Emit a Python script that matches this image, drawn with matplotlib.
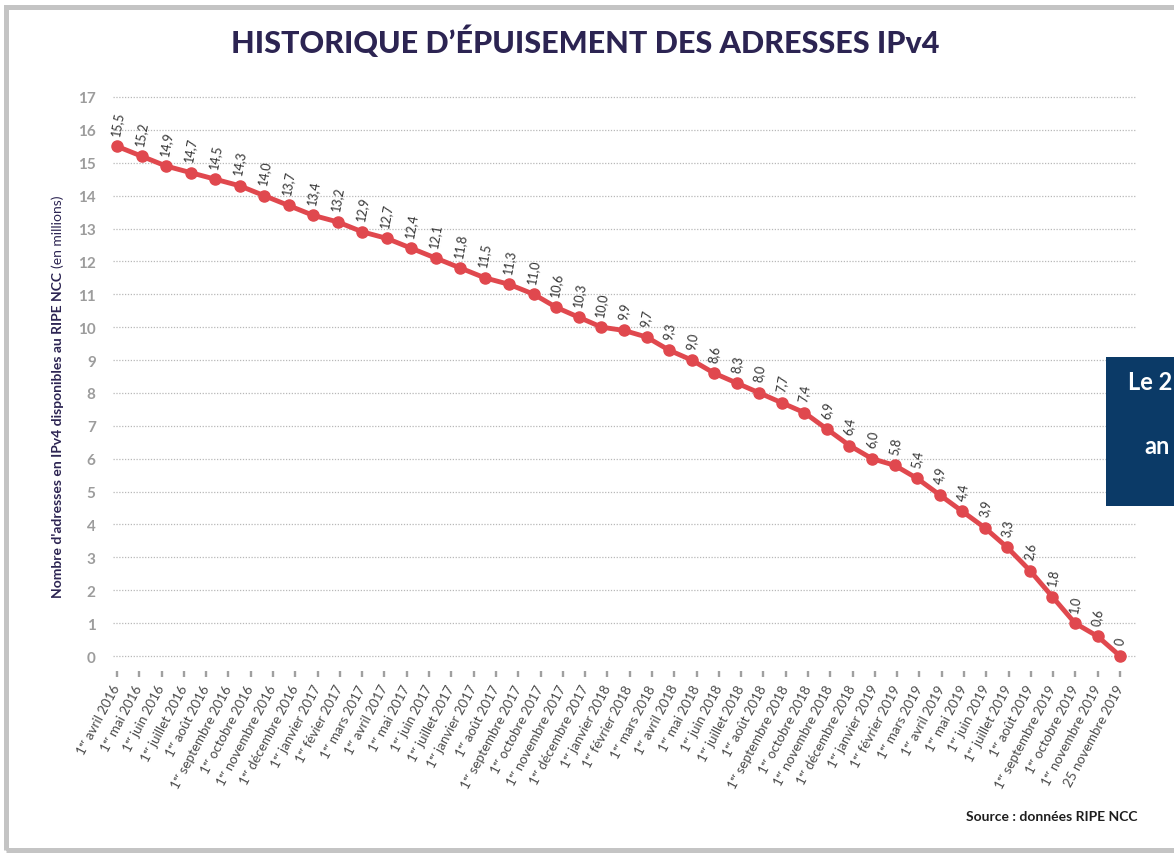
import matplotlib
matplotlib.use("Agg")
import matplotlib.pyplot as plt
import numpy as np
from matplotlib.patches import Rectangle

# ---------------- data ----------------
dates = [
    "1ᵉʳ avril 2016", "1ᵉʳ mai 2016", "1ᵉʳ juin 2016", "1ᵉʳ juillet 2016", "1ᵉʳ août 2016",
    "1ᵉʳ septembre 2016", "1ᵉʳ octobre 2016", "1ᵉʳ novembre 2016", "1ᵉʳ décembre 2016",
    "1ᵉʳ janvier 2017", "1ᵉʳ févier 2017", "1ᵉʳ mars 2017", "1ᵉʳ avril 2017", "1ᵉʳ mai 2017",
    "1ᵉʳ juin 2017", "1ᵉʳ juillet 2017", "1ᵉʳ janvier 2017", "1ᵉʳ août 2017",
    "1ᵉʳ septembre 2017", "1ᵉʳ octobre 2017", "1ᵉʳ novembre 2017", "1ᵉʳ décembre 2017",
    "1ᵉʳ janvier 2018", "1ᵉʳ février 2018", "1ᵉʳ mars 2018", "1ᵉʳ avril 2018", "1ᵉʳ mai 2018",
    "1ᵉʳ juin 2018", "1ᵉʳ juillet 2018", "1ᵉʳ août 2018", "1ᵉʳ septembre 2018",
    "1ᵉʳ octobre 2018", "1ᵉʳ novembre 2018", "1ᵉʳ décembre 2018", "1ᵉʳ janvier 2019",
    "1ᵉʳ février 2019", "1ᵉʳ mars 2019", "1ᵉʳ avril 2019", "1ᵉʳ mai 2019", "1ᵉʳ juin 2019",
    "1ᵉʳ juillet 2019", "1ᵉʳ août 2019", "1ᵉʳ septembre 2019", "1ᵉʳ octobre 2019",
    "1ᵉʳ novembre 2019", "25 novembre 2019",
]
values = [15.5, 15.2, 14.9, 14.7, 14.5, 14.3, 14.0, 13.7, 13.4, 13.2, 12.9, 12.7, 12.4,
          12.1, 11.8, 11.5, 11.3, 11.0, 10.6, 10.3, 10.0, 9.9, 9.7, 9.3, 9.0, 8.6, 8.3,
          8.0, 7.7, 7.4, 6.9, 6.4, 6.0, 5.8, 5.4, 4.9, 4.4, 3.9, 3.3, 2.6, 1.8, 1.0, 0.6, 0.0]
value_labels = ["0" if v == 0 else f"{v:.1f}".replace(".", ",") for v in values]
yticks = list(range(0, 18))

title = "HISTORIQUE D’ÉPUISEMENT DES ADRESSES IPv4"
ylabel_bold = "Nombre d'adresses en IPv4 disponibles au RIPE NCC"
ylabel_reg = "(en millions)"
source = "Source : données RIPE NCC"
side_lines = ["Le 2", "an"]

# ---------------- layout helpers ----------------
W, H = 1174, 854
fig = plt.figure(figsize=(W / 100, H / 100), dpi=100)
fig.patch.set_facecolor("white")

def fx(px):
    return px / W

def fy(py):
    return 1 - py / H

FONT = ["Lato", "DejaVu Sans"]
plt.rcParams["font.family"] = FONT

# frame border
fig.patches.append(Rectangle((fx(5.5), fy(850.5)), fx(1200), fy(7.5) - fy(850.5),
                             transform=fig.transFigure, fill=False,
                             edgecolor="#C4C4C4", linewidth=3.6, zorder=0))

ax_l, ax_r, ax_t, ax_b = 113, 1137, 91.4, 671.8
ax = fig.add_axes([fx(ax_l), fy(ax_b), fx(ax_r) - fx(ax_l), fy(ax_t) - fy(ax_b)])
ax.set_facecolor("none")

# points are spread on the tick scale (first part slightly stretched, as in source)
idx = np.arange(len(values))
xpos = np.interp(idx, [0, 17, len(values) - 1], [0, 18.7, len(dates) - 1])

ax.set_xlim(-0.18, 45.76)
ax.set_ylim(-0.45, 17.2)

ax.set_yticks(yticks)
ax.set_yticklabels([str(t) for t in yticks])
ax.grid(axis="y", color="#B8B8B8", linestyle=(0, (1, 1.3)), linewidth=0.9)
ax.set_axisbelow(True)
for s in ax.spines.values():
    s.set_visible(False)

ax.tick_params(axis="y", length=0, pad=12.5, labelsize=11, labelcolor="#9C9C9C")
for lab in ax.get_yticklabels():
    lab.set_fontweight("bold")

ax.set_xticks(range(len(dates)))
ax.set_xticklabels(dates, rotation=62, ha="right", rotation_mode="anchor",
                   va="center", fontsize=9.6, color="#4A4A4A")
ax.tick_params(axis="x", length=4.5, width=1.7, color="#A0A0A0", pad=6)

ax.plot(xpos, values, color="#E0484E", lw=3.5, marker="o", ms=8,
        solid_capstyle="round", zorder=3, clip_on=False)

for x, v, s in zip(xpos, values, value_labels):
    ax.annotate(s, (x, v), xytext=(0, 7.5), textcoords="offset points",
                ha="center", va="bottom", rotation=80, fontsize=9,
                color="#333333", zorder=4)

# title
fig.text(fx(585), fy(42), title, ha="center", va="center", fontsize=22,
         fontweight="black", color="#2C2452", family=FONT)

# y label (bold part + regular part)
t1 = fig.text(fx(57.5), fy(598), ylabel_bold, rotation=90, rotation_mode="anchor",
              ha="left", va="center", fontsize=10, fontweight="bold", color="#2C2452")
fig.canvas.draw()
bb = t1.get_window_extent(fig.canvas.get_renderer())
fig.text(fx(57.5), (bb.y1 + 4) / H, ylabel_reg, rotation=90, rotation_mode="anchor",
         ha="left", va="center", fontsize=10, color="#2C2452")

# source
fig.text(fx(1137), fy(817), source, ha="right", va="center", fontsize=10,
         fontweight="bold", color="#1E1E1E")

# blue side box (cropped at the right edge)
fig.patches.append(Rectangle((fx(1106), fy(507)), fx(100), fy(358) - fy(507),
                             transform=fig.transFigure, facecolor="#0B3A67",
                             edgecolor="none", zorder=5))
fig.text(fx(1128), fy(382), side_lines[0], ha="left", va="center", fontsize=17,
         fontweight="bold", color="white", zorder=6)
fig.text(fx(1144), fy(447), side_lines[1], ha="left", va="center", fontsize=17,
         fontweight="bold", color="white", zorder=6)

fig.savefig("out.png", dpi=100)
